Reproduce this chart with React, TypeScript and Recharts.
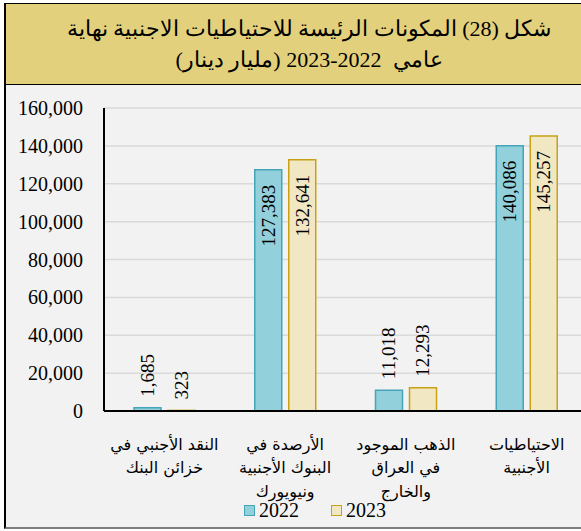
import { BarChart, Bar, XAxis, YAxis, CartesianGrid, LabelList } from 'recharts';

const categories = [
  ['النقد الأجنبي في', 'خزائن البنك'],
  ['الأرصدة في', 'البنوك الأجنبية', 'ونيويورك'],
  ['الذهب الموجود', 'في العراق', 'والخارج'],
  ['الاحتياطيات', 'الأجنبية'],
];
const values2022 = [1685, 127383, 11018, 140086];
const values2023 = [323, 132641, 12293, 145257];
const yTicks = [0, 20000, 40000, 60000, 80000, 100000, 120000, 140000, 160000];

const data = categories.map((lines, i) => ({
  name: lines.join(' '),
  lines,
  y2022: values2022[i],
  y2023: values2023[i],
}));

const SERIF = "'Liberation Serif', 'Times New Roman', serif";
const ARABIC = "'DejaVu Sans', 'Liberation Sans', sans-serif";

const C22 = { fill: '#92d0dc', stroke: '#45a4b8' };
const C23 = { fill: '#f1e7c3', stroke: '#c8a214' };

function CatTick({ x, y, payload }: any) {
  const row = data.find(d => d.name === payload.value);
  const lines = row ? row.lines : [String(payload.value)];
  return (
    <g>
      {lines.map((l, i) => (
        <text key={i} x={x} y={y + 25 + i * 23.5} textAnchor="middle" dominantBaseline="central"
          fontFamily={ARABIC} fontSize={16} fill="#000" direction="rtl">
          {l}
        </text>
      ))}
    </g>
  );
}

function BarLabel({ x, y, width, value }: any) {
  const cx = x + width / 2;
  const inside = value > 50000;
  const ay = inside ? y + 15 : y - 11;
  return (
    <text x={cx} y={ay} transform={`rotate(-90 ${cx} ${ay})`} textAnchor={inside ? 'end' : 'start'}
      dominantBaseline="central" fontFamily={SERIF} fontSize={19} fill="#000">
      {Number(value).toLocaleString('en-US')}
    </text>
  );
}

function ChartLegend() {
  const items = [
    { label: '2022', c: C22 },
    { label: '2023', c: C23 },
  ];
  return (
    <div style={{ position: 'absolute', top: 499, left: 0, width: 630, display: 'flex', justifyContent: 'center', gap: 32 }}>
      {items.map(it => (
        <div key={it.label} style={{ display: 'flex', alignItems: 'center', gap: 4 }}>
          <span style={{ width: 9, height: 9, background: it.c.fill, border: `1.5px solid ${it.c.stroke}`, display: 'inline-block' }} />
          <span style={{ fontFamily: SERIF, fontSize: 20, color: '#000' }}>{it.label}</span>
        </div>
      ))}
    </div>
  );
}

export default function App() {
  return (
    <div style={{ position: 'absolute', left: 0, top: 0, width: 581, height: 531, overflow: 'hidden', background: '#fff' }}>
      <div style={{
        position: 'absolute', left: 4, top: 3, width: 606, height: 80, background: '#e2d07c',
        borderLeft: '2px solid #000', borderTop: '1px solid #000', borderBottom: '1px solid #000',
        display: 'flex', flexDirection: 'column', alignItems: 'center', justifyContent: 'center',
        fontFamily: SERIF, fontSize: 22, lineHeight: '31px', color: '#000', direction: 'rtl',
      }}>
        <div>شكل (28) المكونات الرئيسة للاحتياطيات الاجنبية نهاية</div>
        <div>عامي&nbsp; 2022-2023 (مليار دينار)</div>
      </div>
      <div style={{
        position: 'absolute', left: 4, top: 85, width: 606, height: 442, background: '#f2f2f2',
        borderLeft: '2px solid #000', borderBottom: '2px solid #7f7f7f',
      }} />
      <div style={{ position: 'absolute', left: 0, top: 0 }}>
        <BarChart width={600} height={531} data={data} barSize={27} barGap={7}
          margin={{ top: 108, right: 13, bottom: 30, left: 0 }}>
          <CartesianGrid horizontal vertical={false} stroke="#d9d9d9" strokeWidth={1.5} />
          <XAxis dataKey="name" height={90} tick={<CatTick />} tickLine={false} interval={0}
            axisLine={{ stroke: '#000', strokeWidth: 2 }} />
          <YAxis width={104} domain={[0, 160000]} ticks={yTicks} tickLine={false} tickSize={0} tickMargin={21}
            axisLine={{ stroke: '#000', strokeWidth: 2 }}
            tick={{ fontFamily: SERIF, fontSize: 20, fill: '#000' }}
            tickFormatter={(v: number) => v.toLocaleString('en-US')} />
          <Bar dataKey="y2022" name="2022" fill={C22.fill} stroke={C22.stroke} strokeWidth={1.5} isAnimationActive={false}>
            <LabelList dataKey="y2022" content={<BarLabel />} />
          </Bar>
          <Bar dataKey="y2023" name="2023" fill={C23.fill} stroke={C23.stroke} strokeWidth={1.5} isAnimationActive={false}>
            <LabelList dataKey="y2023" content={<BarLabel />} />
          </Bar>
        </BarChart>
      </div>
      <ChartLegend />
    </div>
  );
}
